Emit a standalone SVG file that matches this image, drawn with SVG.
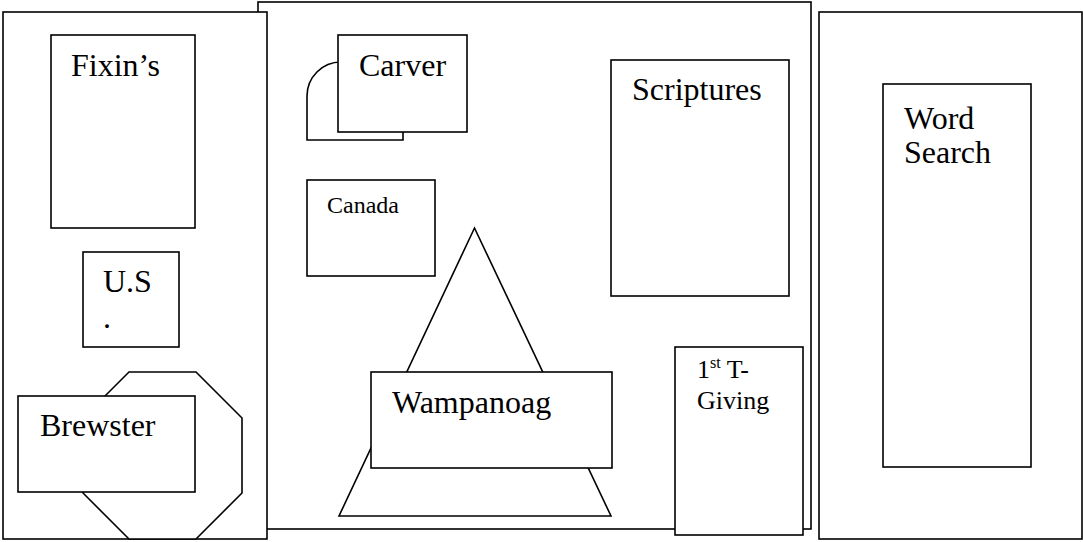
<svg xmlns="http://www.w3.org/2000/svg" width="1083" height="542" viewBox="0 0 1083 542">
<style>
.s{fill:#fff;stroke:#000;stroke-width:1.6}
.t{font-family:"Liberation Serif","Times New Roman",serif;fill:#000;font-size:32px}
.m{font-size:24px}
.g{font-size:26px}
</style>
<rect x="0" y="0" width="1083" height="542" fill="#fff"/>
<g id="panel-middle">
<rect class="s" x="258" y="2" width="553" height="527"/>
</g>
<g id="panel-left">
<rect class="s" x="3" y="12" width="264" height="527"/>
</g>
<g id="panel-right">
<rect class="s" x="819" y="12" width="263" height="527"/>
</g>
<g id="fixins">
<rect class="s" x="51" y="35" width="144" height="193"/>
<text class="t" x="71" y="76">Fixin’s</text>
</g>
<g id="us">
<rect class="s" x="83" y="252" width="96" height="95"/>
<text class="t" x="103" y="292">U.S</text>
<text class="t" x="103" y="328">.</text>
</g>
<g id="brewster">
<polygon class="s" points="129,372 196,372 242,418 242,493 196,539 129,539 83,493 83,418"/>
<rect class="s" x="18" y="396" width="177" height="96"/>
<text class="t" x="40" y="436">Brewster</text>
</g>
<g id="carver">
<path class="s" d="M307,140 L307,96 A34,34 0 0 1 341,62 L403,62 L403,140 Z"/>
<rect class="s" x="338" y="35" width="129" height="97"/>
<text class="t" x="359" y="76">Carver</text>
</g>
<g id="canada">
<rect class="s" x="307" y="180" width="128" height="96"/>
<text class="t m" x="327" y="213">Canada</text>
</g>
<g id="wampanoag">
<polygon class="s" points="474.5,228 611,516 339,516"/>
<rect class="s" x="371" y="372" width="241" height="96"/>
<text class="t" x="392" y="413">Wampanoag</text>
</g>
<g id="scriptures">
<rect class="s" x="611" y="60" width="178" height="236"/>
<text class="t" x="632" y="100">Scriptures</text>
</g>
<g id="thanksgiving">
<rect class="s" x="675" y="347" width="128" height="188"/>
<text class="t g" x="697" y="378">1<tspan font-size="16" dy="-10">st</tspan><tspan dy="10"> T-</tspan></text>
<text class="t g" x="697" y="409">Giving</text>
</g>
<g id="word-search">
<rect class="s" x="883" y="84" width="148" height="383"/>
<text class="t" x="904" y="129">Word</text>
<text class="t" x="904" y="163">Search</text>
</g>
</svg>
